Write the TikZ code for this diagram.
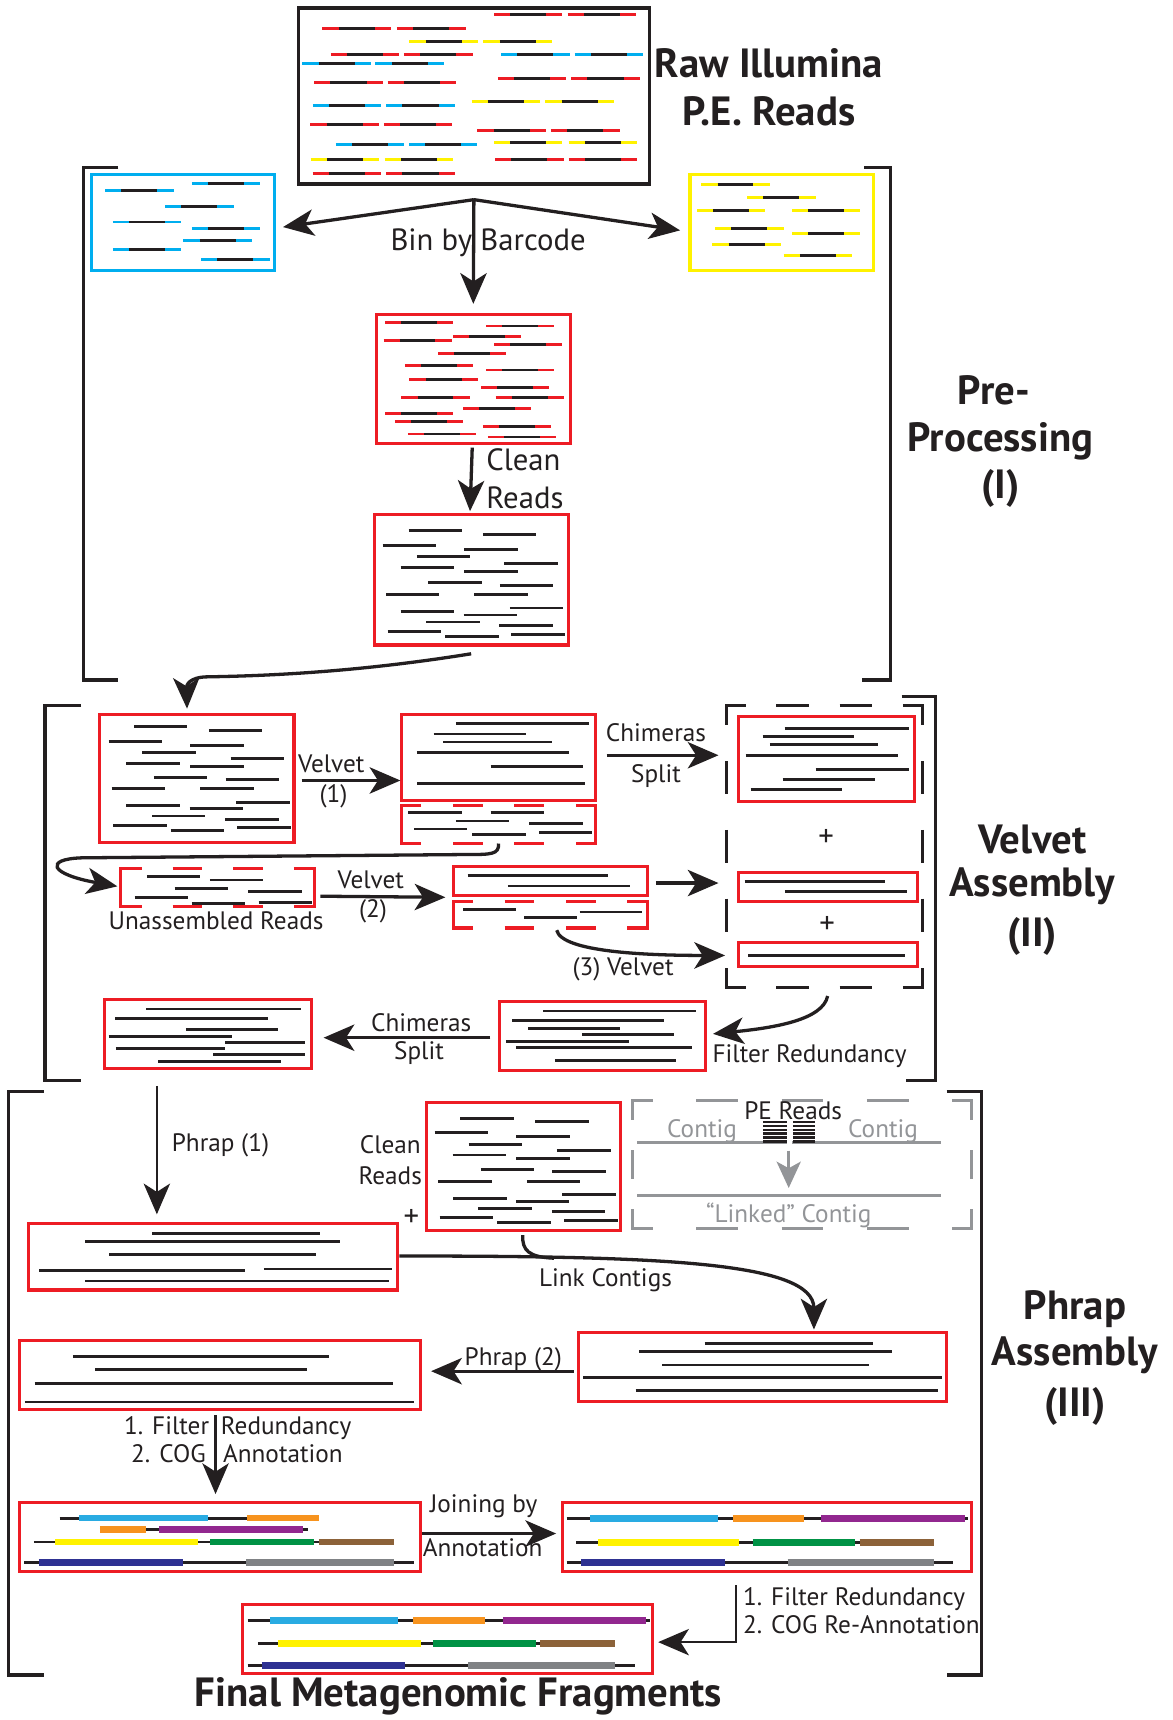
\documentclass[tikz,border=0pt]{standalone}
\usepackage{fontspec}
\setmainfont{PT Sans}
\usetikzlibrary{arrows.meta,calc}
\definecolor{rd}{HTML}{ED1C24}
\definecolor{bl}{HTML}{00AEEF}
\definecolor{yl}{HTML}{FFF200}
\definecolor{ink}{HTML}{231F20}
\definecolor{gr}{HTML}{939598}
\definecolor{cyanbar}{HTML}{29ABE2}
\definecolor{orangebar}{HTML}{F7931E}
\definecolor{purplebar}{HTML}{92278F}
\definecolor{greenbar}{HTML}{009245}
\definecolor{brownbar}{HTML}{8C6239}
\definecolor{navybar}{HTML}{2E3192}
\definecolor{graybar}{HTML}{808285}

\newcommand\bx[6]{\node[#6,minimum width={(#4-#2)*0.5pt},minimum height={(#5-#3)*0.5pt}] (#1) at ({(#2+#4)/2},{(#3+#5)/2}) {};}
\newcommand\cread[4]{\draw[line width=1.3pt,color=#4] (#1,#3) -- (#2,#3);
  \draw[readln] ({#1+0.237*(#2-#1)},#3) -- ({#2-0.237*(#2-#1)},#3);}
\newcommand\dvlen{28}
\newcommand\dshbox[9]{%
  \pgfmathsetmacro\dbgh{((#4)-(#2)-2*(#6)-(#8)*(#7))/((#8)+1)}%
  \foreach \i in {1,...,#8}{%
    \draw[#1] ({#2+#6+\i*\dbgh+(\i-1)*#7},#3) -- ++(#7,0);
    \draw[#1] ({#2+#6+\i*\dbgh+(\i-1)*#7},#5) -- ++(#7,0);
  }%
  \ifnum#9=0
    \draw[#1] ({#2+#6},#3) -- (#2,#3) -- (#2,#5) -- ({#2+#6},#5);
    \draw[#1] ({#4-#6},#3) -- (#4,#3) -- (#4,#5) -- ({#4-#6},#5);
  \else
    \pgfmathsetmacro\dbgv{((#5)-(#3)-2*(#6)-(#9)*\dvlen)/((#9)+1)}%
    \draw[#1] ({#2+#6},#3) -- (#2,#3) -- (#2,{#3+#6});
    \draw[#1] ({#4-#6},#3) -- (#4,#3) -- (#4,{#3+#6});
    \draw[#1] ({#2+#6},#5) -- (#2,#5) -- (#2,{#5-#6});
    \draw[#1] ({#4-#6},#5) -- (#4,#5) -- (#4,{#5-#6});
    \foreach \i in {1,...,#9}{%
      \draw[#1] (#2,{#3+#6+\i*\dbgv+(\i-1)*\dvlen}) -- ++(0,\dvlen);
      \draw[#1] (#4,{#3+#6+\i*\dbgv+(\i-1)*\dvlen}) -- ++(0,\dvlen);
    }%
  \fi}

\tikzset{
  frame/.style n args={8}{shift={(#1,#2)},xscale={(#3-#1)/(#7-#5)},yscale={(#4-#2)/(#8-#6)},shift={(-#5,-#6)}},
  box/.style={draw=ink,rectangle,inner sep=0pt,outer sep=0pt,line width=1.4pt},
  rbox/.style={box,draw=rd},
  ghost/.style={rectangle,inner sep=0pt,outer sep=0pt},
  readln/.style={line width=1.3pt,color=ink},
  barln/.style={line width=3pt},
  rdash/.style={draw=rd,line width=1.4pt},
  kdash/.style={draw=ink,line width=1.5pt},
  gdash/.style={draw=gr,line width=1.4pt},
  conn/.style={draw=ink,line width=1.5pt,-{Stealth[length=14pt,width=12pt,inset=3.8pt]}},
  thinconn/.style={conn,line width=1.1pt},
  gconn/.style={draw=gr,line width=1.3pt,-{Stealth[length=12pt,width=11pt,inset=3pt]}},
  bracket/.style={draw=ink,line width=1.5pt},
  lbl/.style={inner sep=0pt,text=ink,font=\fontsize{11.5}{13}\selectfont,text height=8pt,text depth=0pt},
  lblb/.style={inner sep=0pt,text=ink,font=\fontsize{14}{16}\selectfont,text height=9.8pt,text depth=0pt},
  ttl/.style={inner sep=0pt,text=ink,font=\fontsize{18.6}{22}\selectfont\bfseries,text height=13pt,text depth=0pt},
}

\begin{document}
\begin{tikzpicture}[x=0.5pt,y=-0.5pt]
\fill[white] (0,0) rectangle (1069,1568);
\useasboundingbox (0,0) rectangle (1069,1568);

% ---------------- boxes ----------------
\bx{top}{272}{7}{592}{168}{box,line width=1.7pt}
\bx{blue}{83}{159}{250}{247}{box,draw=bl}
\bx{yellow}{629}{159}{796}{247}{box,draw=yl}
\bx{r1}{343}{287}{520}{404}{rbox}
\bx{r2}{341}{469}{518}{588}{rbox}
\bx{A}{91}{651}{268}{768}{rbox}
\bx{B}{366}{651}{543}{730}{rbox}
\bx{Bd}{366}{734}{543}{769}{ghost}
\bx{C}{662}{643}{841}{900}{ghost}
\bx{C1}{673}{653}{834}{731}{rbox}
\bx{C2}{673}{795}{836}{822}{rbox}
\bx{C3}{673}{859}{836}{881}{rbox}
\bx{U}{110}{792}{287}{826}{ghost}
\bx{D}{413}{790}{590}{816}{rbox}
\bx{Dd}{413}{822}{590}{846}{ghost}
\bx{E}{455}{913}{643}{976}{rbox}
\bx{F}{95}{911}{284}{974}{rbox}
\bx{G}{389}{1005}{566}{1122}{rbox}
\bx{GR}{577}{1003}{886}{1120}{ghost}
\bx{H}{26}{1115}{362}{1176}{rbox}
\bx{I}{527}{1215}{863}{1278}{rbox}
\bx{J}{18}{1222}{383}{1285}{rbox}
\bx{K}{18}{1370}{383}{1433}{rbox}
\bx{L}{513}{1370}{886}{1433}{rbox}
\bx{M}{221}{1463}{595}{1526}{rbox}

\dshbox{rdash}{366}{734}{543}{769}{18}{27}{2}{0}
\dshbox{rdash}{110}{792}{287}{826}{19}{27}{2}{0}
\dshbox{rdash}{413}{822}{590}{846}{18}{27}{2}{0}
\renewcommand\dvlen{30}
\dshbox{kdash}{662}{643}{841}{900}{18}{30}{2}{3}
\renewcommand\dvlen{26}
\dshbox{gdash}{577}{1003}{886}{1120}{18}{38}{3}{1}

% ---------------- reads ----------------
\begin{scope}[frame={272}{7}{592}{168}{22}{20}{910}{558}]
\foreach \xa/\xb/\yy/\cc in {517/690/42/rd,703/876/42/rd,83/257/84/rd,271/445/84/rd,
 303/477/124/yl,490/663/124/yl,104/277/162/rd,289/463/162/rd,535/708/162/bl,721/894/162/bl,
 32/205/191/bl,217/391/191/bl,527/700/235/rd,712/886/235/rd,62/236/247/rd,248/422/247/rd,
 460/633/306/yl,647/821/306/yl,59/232/319/bl,244/418/319/bl,52/226/375/rd,238/411/375/rd,
 475/649/394/rd,661/835/394/rd,117/290/436/bl,302/475/436/bl,517/690/432/yl,706/879/432/yl,
 53/226/482/yl,240/414/482/yl,520/693/482/rd,706/879/482/rd,58/232/526/rd,244/418/526/rd}
 {\cread{\xa}{\xb}{\yy}{\cc}}
\end{scope}
\begin{scope}[frame={83}{159}{250}{247}{22}{45}{373}{337}]
\foreach \xa/\xb/\yy in {215/345/72,49/180/93,164/295/142,64/195/189,215/345/208,199/330/244,64/195/272,233/364/302}
 {\cread{\xa}{\xb}{\yy}{bl}}
\end{scope}
\begin{scope}[frame={629}{159}{796}{247}{1168}{45}{1518}{337}]
\foreach \xa/\xb/\yy in {1190/1320/76,1277/1408/116,1182/1312/155,1363/1493/155,1216/1347/208,1363/1493/225,1211/1342/256,1347/1478/289}
 {\cread{\xa}{\xb}{\yy}{yl}}
\end{scope}
\begin{scope}[frame={343}{287}{520}{404}{50}{40}{635}{433}]
\foreach \xa/\xb/\yy in {77/282/64,381/586/74,282/487/106,72/277/119,405/610/132,237/442/158,136/341/195,381/586/209,150/356/237,366/571/263,126/331/292,410/615/292,312/517/327,77/282/341,106/311/367,371/576/383,145/351/405,386/591/414}
 {\cread{\xa}{\xb}{\yy}{rd}}
\end{scope}
\begin{scope}[frame={341}{469}{518}{588}{43}{645}{628}{1036}]
\foreach \xa/\xb/\yy in {147/307/694,371/532/704,69/230/738,315/476/750,172/333/772,436/597/792,123/284/805,315/476/815,207/368/848,422/583/857,79/240/884,345/506/884,452/613/925,123/284/936,313/474/946,200/361/967,420/581/977,84/245/995,457/618/1005,257/418/1010}
 {\draw[readln] (\xa,\yy) -- (\xb,\yy);}
\end{scope}
\begin{scope}[frame={91}{651}{268}{768}{152}{70}{643}{463}]
\foreach \xa/\xb/\yy in {239/373/109,428/563/120,174/309/153,381/516/165,259/394/187,483/618/207,219/354/220,381/516/231,289/424/264,470/605/271,182/318/298,406/541/298,497/632/340,219/354/351,379/514/360,284/419/382,469/604/392,186/321/410,500/635/418,331/467/426}
 {\draw[readln] (\xa,\yy) -- (\xb,\yy);}
\end{scope}
\begin{scope}[frame={366}{651}{543}{730}{918}{72}{1408}{333}]
\foreach \xa/\xb/\yy in {1055/1390/100,999/1232/132,1024/1297/156,957/1342/188,1143/1376/231,958/1382/281}
 {\draw[readln] (\xa,\yy) -- (\xb,\yy);}
\end{scope}
\begin{scope}[frame={366}{734}{543}{769}{918}{348}{1408}{462}]
\foreach \xa/\xb/\yy in {935/1070/371,1143/1278/371,1055/1189/395,1240/1375/403,950/1084/419,1266/1400/430,1097/1231/436}
 {\draw[readln] (\xa,\yy) -- (\xb,\yy);}
\end{scope}
\begin{scope}[frame={110}{792}{287}{826}{205}{537}{695}{640}]
\foreach \xa/\xb/\yy in {271/406/558,430/565/568,341/476/592,527/662/600,240/375/617,553/688/630,384/518/633}
 {\draw[readln] (\xa,\yy) -- (\xb,\yy);}
\end{scope}
\begin{scope}[frame={413}{790}{590}{816}{1045}{530}{1537}{615}]
\foreach \xa/\xb/\yy in {1082/1437/557,1184/1494/588}
 {\draw[readln] (\xa,\yy) -- (\xb,\yy);}
\end{scope}
\begin{scope}[frame={413}{822}{590}{846}{1045}{635}{1537}{712}]
\foreach \xa/\xb/\yy in {1071/1205/657,1366/1525/665,1225/1360/682}
 {\draw[readln] (\xa,\yy) -- (\xb,\yy);}
\end{scope}
\begin{scope}[frame={673}{653}{834}{731}{358}{82}{887}{337}]
\foreach \xa/\xb/\yy in {497/868/119,431/706/142,453/777/165,380/838/198,590/868/240,491/767/271,395/668/300}
 {\draw[readln] (\xa,\yy) -- (\xb,\yy);}
\end{scope}
\begin{scope}[frame={673}{795}{836}{822}{358}{543}{892}{634}]
\foreach \xa/\xb/\yy in {377/797/573,497/863/603}
 {\draw[readln] (\xa,\yy) -- (\xb,\yy);}
\end{scope}
\begin{scope}[frame={673}{859}{836}{881}{358}{760}{888}{830}]
\draw[readln] (388,798) -- (852,798);
\end{scope}
\begin{scope}[frame={455}{913}{643}{976}{1056}{65}{1537}{275}]
\foreach \xa/\xb/\yy in {1159/1515/94,1087/1440/123,1124/1339/148,1249/1463/165,1072/1358/187,1095/1505/206,1186/1469/245}
 {\draw[readln] (\xa,\yy) -- (\xb,\yy);}
\end{scope}
\begin{scope}[frame={95}{911}{284}{974}{148}{55}{628}{268}]
\foreach \xa/\xb/\yy in {245/603/85,174/527/115,337/550/148,158/444/170,428/612/187,175/427/206,400/612/226,273/557/247}
 {\draw[readln] (\xa,\yy) -- (\xb,\yy);}
\end{scope}
\begin{scope}[frame={389}{1005}{566}{1122}{22}{22}{604}{410}]
\foreach \xa/\xb/\yy in {123/284/70,348/508/79,46/206/113,291/452/126,148/308/148,412/573/167,100/261/181,291/452/191,184/344/224,399/559/232,57/217/260,322/482/260,428/589/300,101/262/312,289/450/322,176/337/343,397/557/352,61/221/371,234/394/386,434/594/380}
 {\draw[readln] (\xa,\yy) -- (\xb,\yy);}
\end{scope}
\begin{scope}[frame={26}{1115}{362}{1176}{47}{65}{623}{272}]
\foreach \xa/\xb/\yy in {240/503/96,136/533/121,173/496/163,64/386/212,415/615/207,136/610/244}
 {\draw[readln] (\xa,\yy) -- (\xb,\yy);}
\end{scope}
\begin{scope}[frame={527}{1215}{863}{1278}{908}{400}{1485}{615}]
\foreach \xa/\xb/\yy in {1106/1369/433,1004/1399/458,1040/1363/500,916/1477/538,998/1472/580}
 {\draw[readln] (\xa,\yy) -- (\xb,\yy);}
\end{scope}
\begin{scope}[frame={18}{1222}{383}{1285}{0}{0}{1000}{1000}]
\foreach \xa/\xb/\yy in {133/773/230,189/718/420,37/933/620,13/984/890}
 {\draw[readln] (\xa,\yy) -- (\xb,\yy);}
\end{scope}
% annotated contigs
\begin{scope}[frame={18}{1370}{383}{1433}{33}{340}{657}{548}]
\draw[readln] (95,386) -- (500,386);
\draw[barln,cyanbar] (126,386) -- (327,386);
\draw[barln,orangebar] (387,386) -- (499,386);
\draw[readln] (158,420) -- (482,420);
\draw[barln,orangebar] (158,420) -- (230,420);
\draw[barln,purplebar] (250,420) -- (475,420);
\draw[readln] (55,458) -- (617,458);
\draw[barln,yl] (88,458) -- (311,458);
\draw[barln,greenbar] (330,458) -- (491,458);
\draw[barln,brownbar] (499,458) -- (616,458);
\draw[readln] (40,520) -- (647,520);
\draw[barln,navybar] (63,520) -- (288,520);
\draw[barln,graybar] (386,520) -- (616,520);
\end{scope}
\begin{scope}[frame={513}{1370}{886}{1433}{884}{338}{1526}{548}]
\draw[readln] (890,386) -- (1520,386);
\draw[barln,cyanbar] (927,386) -- (1127,386);
\draw[barln,orangebar] (1151,386) -- (1262,386);
\draw[barln,purplebar] (1290,386) -- (1515,386);
\draw[readln] (905,458) -- (1467,458);
\draw[barln,yl] (939,458) -- (1161,458);
\draw[barln,greenbar] (1182,458) -- (1343,458);
\draw[barln,brownbar] (1350,458) -- (1467,458);
\draw[readln] (890,520) -- (1497,520);
\draw[barln,navybar] (913,520) -- (1138,520);
\draw[barln,graybar] (1237,520) -- (1467,520);
\end{scope}
\begin{scope}[frame={221}{1463}{595}{1526}{85}{75}{888}{283}]
\draw[readln] (95,123) -- (883,123);
\draw[barln,cyanbar] (139,123) -- (390,123);
\draw[barln,orangebar] (419,123) -- (560,123);
\draw[barln,purplebar] (595,123) -- (875,123);
\draw[readln] (115,192) -- (815,192);
\draw[barln,yl] (155,192) -- (434,192);
\draw[barln,greenbar] (458,192) -- (660,192);
\draw[barln,brownbar] (668,192) -- (815,192);
\draw[readln] (95,257) -- (853,257);
\draw[barln,navybar] (123,257) -- (404,257);
\draw[barln,graybar] (527,257) -- (815,257);
\end{scope}

% gray linked contig inset
\draw[gr,line width=1.3pt] (581,1041.5) -- (717,1041.5) (722,1041.5) -- (858,1041.5);
\draw[gr,line width=1.3pt] (581,1090) -- (858,1090);
\foreach \yy in {1023,1026.5,1030,1033.5,1037,1040.5}
 {\draw[ink,line width=1.1pt] (696,\yy) -- (717,\yy) (723,\yy) -- (743,\yy);}
\coordinate (ga) at (719,1049);
\coordinate (gb) at (719,1083);
\draw[gconn] (ga) -- (gb);
\node[lbl,text=gr] (ct1) at (640,1029) {Contig};
\node[lbl,text=gr] (ct2) at (805,1029) {Contig};
\node[lbl] (pe) at (723,1013) {PE Reads};
\node[lbl,text=gr] (lk) at (719,1106) {“Linked” Contig};

% ---------------- brackets ----------------
\draw[bracket] (108,153) -- (76,153) -- (76,620) -- (108,620);
\draw[bracket] (788,153) -- (812,153) -- (812,620) -- (786,620);
\draw[bracket] (74,643) -- (41,643) -- (41,985) -- (74,985);
\draw[bracket] (822,635) -- (853,635) -- (853,985) -- (826,985);
\draw[bracket] (40,995) -- (8,995) -- (8,1527) -- (40,1527);
\draw[bracket] (863,995) -- (895,995) -- (895,1527) -- (863,1527);

% ---------------- connectors ----------------
\coordinate (fork) at ($(top.south)+(0,14)$);
\draw[conn] (fork) -- ($(blue.east)+(8,4)$);
\draw[conn] (fork) -- ($(yellow.west)+(-9,7)$);
\draw[conn] (fork) -- ($(r1.north)+(0,-10)$);
\draw[conn] ($(r1.south)+(-1,4)$) -- ($(r2.north)+(-1,-3)$);
\draw[conn] ($(r2.south)+(0,8)$) .. controls (330,612) and (250,616) .. (190,617)
  .. controls (172,617) and (170,625) .. ($(A.north)+(-9,-5)$);
\draw[conn] ($(A.east)+(7,2)$) -- ($(B.west|-A.east)+(-1,2)$);
\draw[conn] ($(B.east)+(10,-2)$) -- ($(C.west|-B.east)+(-7,-2)$);
\draw[conn] (Bd.south) .. controls (455,779) and (448,779) .. (425,779) -- (75,782)
  .. controls (40,783) and (45,797) .. ($(U.west)+(-3,-1)$);
\draw[conn] ($(U.east)+(5,8)$) -- ($(D.south west)+(-7,2)$);
\draw[conn] ($(D.east)+(8,2)$) -- ($(C.west|-D.east)+(-7,2)$);
\draw[conn] ($(Dd.south)+(6,2)$) .. controls (512,868) and (590,871) .. ($(C3.west)+(-12,1)$);
\draw[conn] ($(C.south)+(3,8)$) .. controls (750,930) and (705,937) .. ($(E.east)+(7,-2)$);
\draw[conn] ($(E.west)+(-8,1.5)$) -- ($(F.east)+(11,3.5)$);
\draw[thinconn] ($(F.south west)+(48,16)$) -- ($(H.north west)+(117,-8)$);
\draw[conn] ($(H.east)+(2,-0.5)$) .. controls (600,1145) and (742,1150) .. ($(I.north)+(47,-3)$);
\draw[draw=ink,line width=1.5pt] ($(G.south)+(-1,4)$) .. controls (476,1140) and (482,1146) .. (505,1147);
\draw[conn] ($(I.west)+(-4,3.5)$) -- ($(J.east)+(10,-3.5)$);
\draw[thinconn] ($(J.south)+(-4,5)$) -- ($(K.north)+(-4,-8)$);
\draw[conn] ($(K.east)+(2,-3.5)$) -- ($(L.west)+(-6,-3.5)$);
\draw[thinconn] ($(L.south)+(-28.5,12)$) |- ($(M.east)+(5,2.5)$);

% ---------------- labels ----------------
\node[ttl] (t1) at (701,58) {Raw Illumina};
\node[ttl] (t2) at (701,101) {P.E. Reads};
\node[ttl] (s1a) at (906,356) {Pre-};
\node[ttl] (s1b) at (912,399) {Processing};
\node[ttl] (s1c) at (912,441) {(I)};
\node[ttl] (s2a) at (941,765) {Velvet};
\node[ttl] (s2b) at (941,804) {Assembly};
\node[ttl] (s2c) at (941,850) {(II)};
\node[ttl] (s3a) at (980,1190) {Phrap};
\node[ttl] (s3b) at (980,1232) {Assembly};
\node[ttl] (s3c) at (980,1278) {(III)};
\node[ttl] (fin) at (418,1543) {Final Metagenomic Fragments};

\node[lblb] (bin) at (445,219) {Bin by Barcode};
\node[lblb,anchor=west] (cl1) at (443,419) {Clean};
\node[lblb,anchor=west] (cl2) at (443,454) {Reads};
\node[lbl] (v1) at (302,696) {Velvet};
\node[lbl] (v1n) at (304,724) {(1)};
\node[lbl] (ch1) at (598,668) {Chimeras};
\node[lbl] (sp1) at (598,705) {Split};
\node[lbl] (un) at (197,839) {Unassembled Reads};
\node[lbl] (v2) at (338,802) {Velvet};
\node[lbl] (v2n) at (340,828) {(2)};
\node[lbl] (v3) at (568,881) {(3) Velvet};
\node[lblb] (p1) at (753,762) {+};
\node[lblb] (p2) at (754,841) {+};
\node[lbl] (fr) at (738,961) {Filter Redundancy};
\node[lbl] (ch2) at (384,932) {Chimeras};
\node[lbl] (sp2) at (382,958) {Split};
\node[lbl] (ph1) at (201,1042) {Phrap (1)};
\node[lbl,anchor=east] (cr1) at (384,1044) {Clean};
\node[lbl,anchor=east] (cr2) at (385,1072) {Reads};
\node[lblb] (p3) at (375,1108) {+};
\node[lbl] (lc) at (552,1165) {Link Contigs};
\node[lbl] (ph2) at (468,1237) {Phrap (2)};
\node[lbl,anchor=east] (f1a) at (191,1300) {1. Filter};
\node[lbl,anchor=west] (f1b) at (201,1300) {Redundancy};
\node[lbl,anchor=east] (f2a) at (188,1325) {2. COG};
\node[lbl,anchor=west] (f2b) at (203,1325) {Annotation};
\node[lbl] (jb) at (441,1371) {Joining by};
\node[lbl] (ja) at (440,1411) {Annotation};
\node[lbl,anchor=west] (g1) at (677,1456) {1. Filter Redundancy};
\node[lbl,anchor=west] (g2) at (677,1481) {2. COG Re-Annotation};
\end{tikzpicture}
\end{document}
